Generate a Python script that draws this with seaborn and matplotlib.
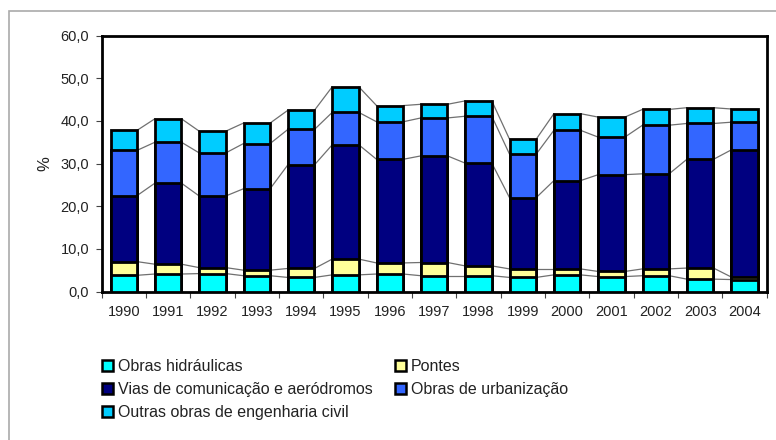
import numpy as np
import pandas as pd
import matplotlib
matplotlib.use("Agg")
import matplotlib.pyplot as plt
from matplotlib.patches import Patch, Rectangle
import seaborn as sns

# Share of each civil-engineering work type (%), 1990-2004
years = ["1990", "1991", "1992", "1993", "1994", "1995", "1996", "1997",
         "1998", "1999", "2000", "2001", "2002", "2003", "2004"]
obras_hidraulicas = [3.8, 4.1, 4.2, 3.7, 3.3, 3.9, 4.1, 3.7, 3.7, 3.3, 3.9, 3.5, 3.7, 2.9, 2.8]
pontes = [3.2, 2.3, 1.4, 1.3, 2.1, 3.7, 2.6, 3.1, 2.3, 2.0, 1.4, 1.2, 1.6, 2.6, 0.6]
vias_comunicacao = [15.5, 19.0, 16.8, 19.1, 24.3, 26.8, 24.3, 25.0, 24.1, 16.7, 20.7, 22.7, 22.3, 25.5, 29.8]
obras_urbanizacao = [10.6, 9.6, 10.1, 10.6, 8.3, 7.6, 8.8, 8.9, 11.0, 10.2, 11.8, 8.8, 11.4, 8.4, 6.5]
outras_obras = [4.7, 5.5, 5.1, 4.8, 4.5, 6.0, 3.8, 3.2, 3.6, 3.5, 3.9, 4.7, 3.7, 3.7, 3.1]

series_names = ["Obras hidráulicas", "Pontes", "Vias de comunicação e aeródromos",
                "Obras de urbanização", "Outras obras de engenharia civil"]
series_values = [obras_hidraulicas, pontes, vias_comunicacao, obras_urbanizacao, outras_obras]
series_colors = ["#00FFFF", "#FFFF99", "#000080", "#3366FF", "#00CCFF"]

sns.set_theme(style="white")
plt.rcParams["font.family"] = ["Liberation Sans", "DejaVu Sans"]

fig = plt.figure(figsize=(7.76, 4.40), dpi=100)
ax = fig.add_axes([0.131, 0.3375, 0.857, 0.5815])

# Stacked bars: draw cumulative totals from the top layer down
cum = np.cumsum(np.array(series_values), axis=0)
bar_w = 0.6
for k in range(len(series_names) - 1, -1, -1):
    df = pd.DataFrame({"ano": years, "valor": cum[k]})
    sns.barplot(data=df, x="ano", y="valor", order=years, color=series_colors[k],
                saturation=1, width=bar_w, edgecolor="black", linewidth=2.0,
                errorbar=None, ax=ax, zorder=3)

# Series lines joining the segment boundaries of neighbouring bars
for k in range(len(series_names)):
    for i in range(len(years) - 1):
        ax.plot([i + bar_w / 2, i + 1 - bar_w / 2], [cum[k][i], cum[k][i + 1]],
                color="#707070", lw=0.9, zorder=2)

ax.set_xlim(-0.5, len(years) - 0.5)
ax.set_ylim(0, 60)
ax.set_yticks(np.arange(0, 61, 10))
ax.set_yticklabels([f"{v:.1f}".replace(".", ",") for v in np.arange(0, 61, 10)])
ax.set_xticks(np.arange(len(years)))
ax.set_xticklabels(years)
ax.set_xticks(np.arange(-0.5, len(years), 1), minor=True)
ax.set_xlabel("")
ax.set_ylabel("%", fontsize=12, color="#222222", labelpad=6)

ax.tick_params(axis="x", which="major", length=0, pad=10, labelsize=10.5, labelcolor="#222222")
ax.tick_params(axis="x", which="minor", length=4, width=0.8, color="#444444", direction="out", bottom=True)
ax.tick_params(axis="y", length=4, width=0.8, color="#444444", direction="out", left=True,
               pad=5, labelsize=10.5, labelcolor="#222222")

for side in ["left", "right", "top", "bottom"]:
    ax.spines[side].set_visible(True)
    ax.spines[side].set_color("black")
    ax.spines[side].set_linewidth(2)

# Legend below the chart, two columns
handles = [Patch(facecolor=c, edgecolor="black", linewidth=1.8) for c in series_colors]
order = [0, 2, 4, 1, 3]
fig.legend([handles[i] for i in order], [series_names[i] for i in order],
           loc="upper left", bbox_to_anchor=(0.131, 0.184), ncol=2, frameon=False,
           fontsize=11.5, handlelength=0.7, handleheight=0.75, handletextpad=0.3,
           columnspacing=1.4, labelspacing=0.5, borderpad=0, borderaxespad=0,
           labelcolor="#222222")

# Outer chart frame (left and top edges visible)
fig.patches.append(Rectangle((9 / 776, -0.1), 1.2, 1.1 - 11 / 440,
                             transform=fig.transFigure, fill=False,
                             edgecolor="#AAAAAA", linewidth=1.2, zorder=0))

fig.savefig("out.png", dpi=100)
